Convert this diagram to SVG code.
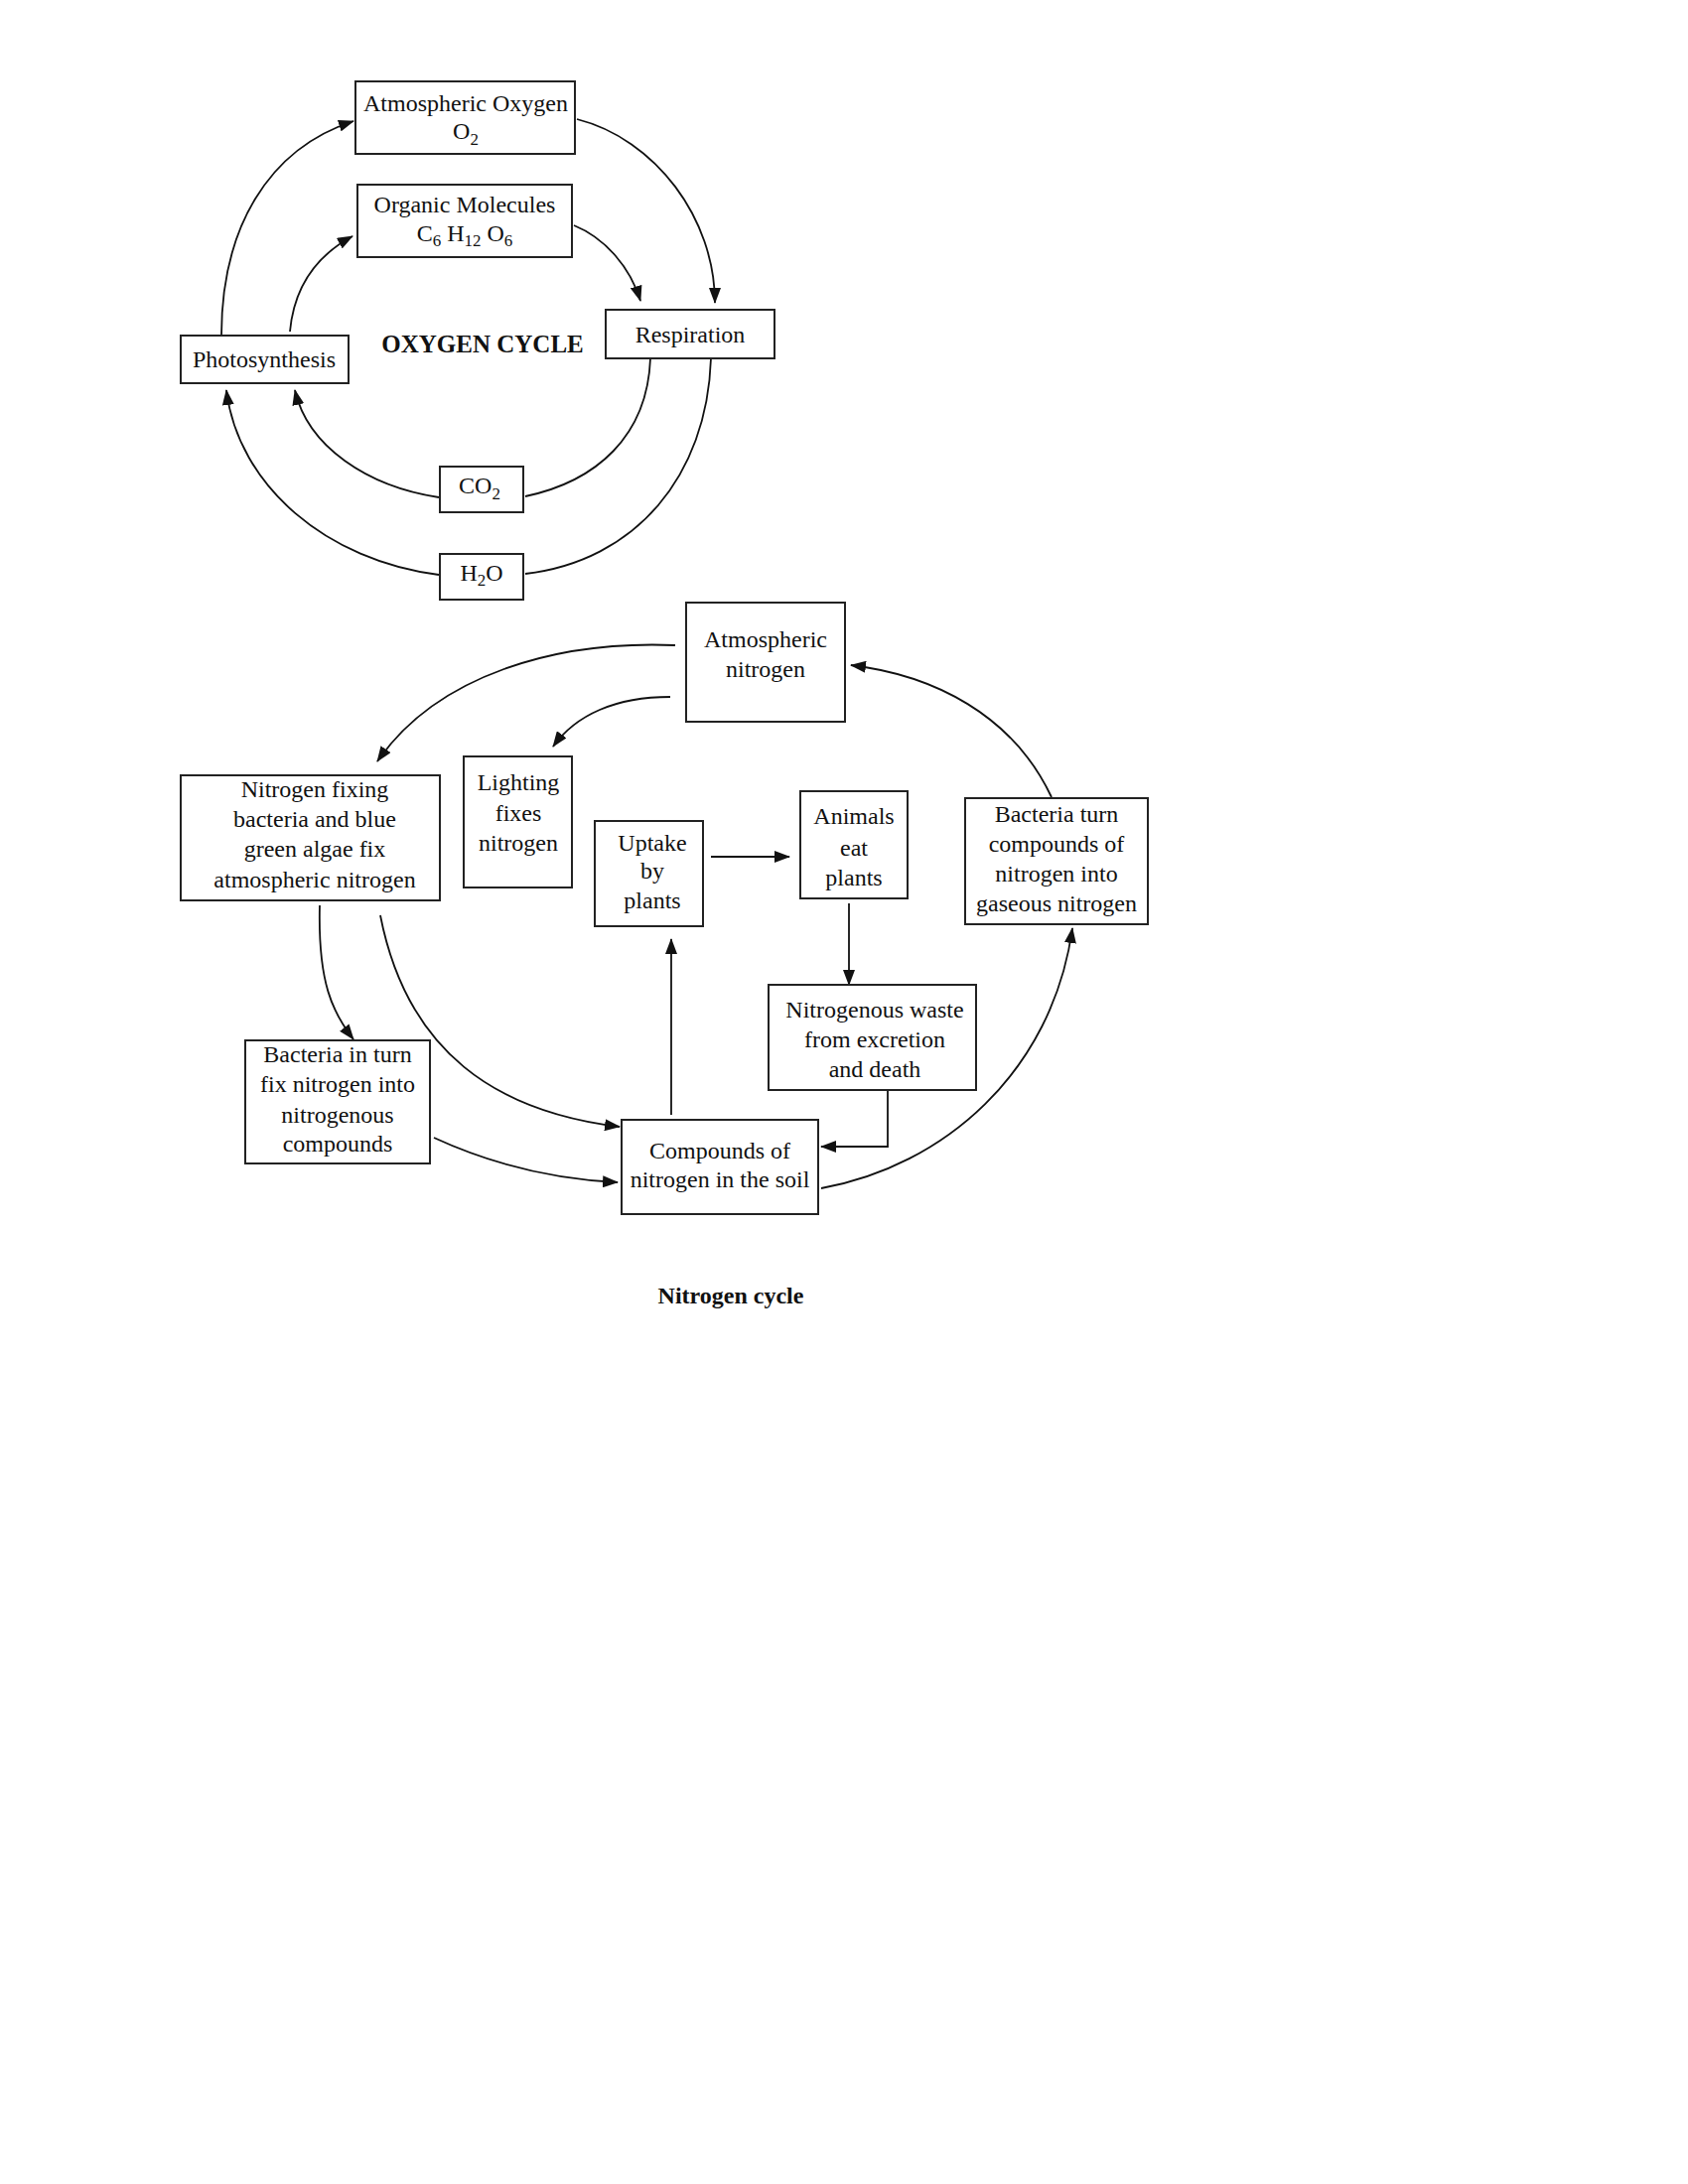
<svg xmlns="http://www.w3.org/2000/svg" width="1700" height="2200" viewBox="0 0 1700 2200">
<defs>
<marker id="ah" markerUnits="userSpaceOnUse" markerWidth="16" markerHeight="12" refX="15" refY="6" orient="auto">
<path d="M0,0 L16,6 L0,12 z" fill="#111"/>
</marker>
<style>
.box{fill:#fff;stroke:#222;stroke-width:2}
.t{font-family:"Liberation Serif","Times New Roman",serif;font-size:24px;fill:#111;text-anchor:middle}
.b{font-family:"Liberation Serif","Times New Roman",serif;font-weight:bold;fill:#111;text-anchor:middle}
.c{fill:none;stroke:#111;stroke-width:1.8}
.a{marker-end:url(#ah)}
</style>
</defs>
<rect width="1700" height="2200" fill="#fff"/>

<g id="connectors">
<path class="c a" d="M223,338 C223,230 270,150 356,122"/>
<path class="c a" d="M292,334 C296,290 318,258 355,238"/>
<path class="c a" d="M581,120 C660,140 720,220 720,305"/>
<path class="c a" d="M578,227 C610,240 635,270 645,303"/>
<path class="c" d="M655,361 C652,440 600,485 529,500"/>
<path class="c" d="M716,361 C712,480 640,565 529,578"/>
<path class="c a" d="M442,501 C370,490 310,450 297,393"/>
<path class="c a" d="M442,579 C330,565 240,490 228,393"/>

<path class="c a" d="M680,650 C560,645 440,680 380,767"/>
<path class="c a" d="M675,702 C620,702 580,720 557,752"/>
<path class="c a" d="M322,912 C320,990 335,1020 356,1047"/>
<path class="c a" d="M383,922 C410,1060 500,1120 624,1135"/>
<path class="c a" d="M437,1146 C500,1175 560,1188 622,1191"/>
<path class="c a" d="M676,1123 L676,946"/>
<path class="c a" d="M716,863 L795,863"/>
<path class="c a" d="M855,910 L855,992"/>
<path class="c a" d="M894,1098 L894,1155 L827,1155"/>
<path class="c a" d="M827,1197 C950,1175 1060,1080 1080,935"/>
<path class="c a" d="M1059,803 C1020,720 940,680 857,670"/>
</g>

<g id="atmospheric-oxygen">
<rect class="box" x="358" y="82" width="221" height="73"/>
<text class="t" x="469" y="112">Atmospheric Oxygen</text>
<text class="t" x="469" y="140">O<tspan font-size="17" dy="6">2</tspan></text>
</g>
<g id="organic-molecules">
<rect class="box" x="360" y="186" width="216" height="73"/>
<text class="t" x="468" y="214">Organic Molecules</text>
<text class="t" x="468" y="243">C<tspan font-size="17" dy="5">6</tspan><tspan dy="-5"> H</tspan><tspan font-size="17" dy="5">12</tspan><tspan dy="-5"> O</tspan><tspan font-size="17" dy="5">6</tspan></text>
</g>
<g id="photosynthesis">
<rect class="box" x="182" y="338" width="169" height="48"/>
<text class="t" x="266" y="370">Photosynthesis</text>
</g>
<g id="respiration">
<rect class="box" x="610" y="312" width="170" height="49"/>
<text class="t" x="695" y="345">Respiration</text>
</g>
<g id="oxygen-cycle-title">
<text class="b" x="486" y="355" font-size="25">OXYGEN CYCLE</text>
</g>
<g id="co2">
<rect class="box" x="443" y="470" width="84" height="46"/>
<text class="t" x="483" y="497">CO<tspan font-size="17" dy="6">2</tspan></text>
</g>
<g id="h2o">
<rect class="box" x="443" y="558" width="84" height="46"/>
<text class="t" x="485" y="585">H<tspan font-size="17" dy="5">2</tspan><tspan dy="-5">O</tspan></text>
</g>

<g id="atmospheric-nitrogen">
<rect class="box" x="691" y="607" width="160" height="120"/>
<text class="t" x="771" y="652">Atmospheric</text>
<text class="t" x="771" y="682">nitrogen</text>
</g>
<g id="nitrogen-fixing">
<rect class="box" x="182" y="781" width="261" height="126"/>
<text class="t" x="317" y="803">Nitrogen fixing</text>
<text class="t" x="317" y="833">bacteria and blue</text>
<text class="t" x="317" y="863">green algae fix</text>
<text class="t" x="317" y="894">atmospheric nitrogen</text>
</g>
<g id="lighting">
<rect class="box" x="467" y="762" width="109" height="132"/>
<text class="t" x="522" y="796">Lighting</text>
<text class="t" x="522" y="827">fixes</text>
<text class="t" x="522" y="857">nitrogen</text>
</g>
<g id="uptake">
<rect class="box" x="599" y="827" width="109" height="106"/>
<text class="t" x="657" y="857">Uptake</text>
<text class="t" x="657" y="885">by</text>
<text class="t" x="657" y="915">plants</text>
</g>
<g id="animals">
<rect class="box" x="806" y="797" width="108" height="108"/>
<text class="t" x="860" y="830">Animals</text>
<text class="t" x="860" y="862">eat</text>
<text class="t" x="860" y="892">plants</text>
</g>
<g id="bacteria-turn">
<rect class="box" x="972" y="804" width="184" height="127"/>
<text class="t" x="1064" y="828">Bacteria turn</text>
<text class="t" x="1064" y="858">compounds of</text>
<text class="t" x="1064" y="888">nitrogen into</text>
<text class="t" x="1064" y="918">gaseous nitrogen</text>
</g>
<g id="nitrogenous-waste">
<rect class="box" x="774" y="992" width="209" height="106"/>
<text class="t" x="881" y="1025">Nitrogenous waste</text>
<text class="t" x="881" y="1055">from excretion</text>
<text class="t" x="881" y="1085">and death</text>
</g>
<g id="bacteria-in-turn">
<rect class="box" x="247" y="1048" width="186" height="124"/>
<text class="t" x="340" y="1070">Bacteria in turn</text>
<text class="t" x="340" y="1100">fix nitrogen into</text>
<text class="t" x="340" y="1131">nitrogenous</text>
<text class="t" x="340" y="1160">compounds</text>
</g>
<g id="soil-compounds">
<rect class="box" x="626" y="1128" width="198" height="95"/>
<text class="t" x="725" y="1167">Compounds of</text>
<text class="t" x="725" y="1196">nitrogen in the soil</text>
</g>
<g id="nitrogen-cycle-title">
<text class="b" x="736" y="1313" font-size="24">Nitrogen cycle</text>
</g>
</svg>
